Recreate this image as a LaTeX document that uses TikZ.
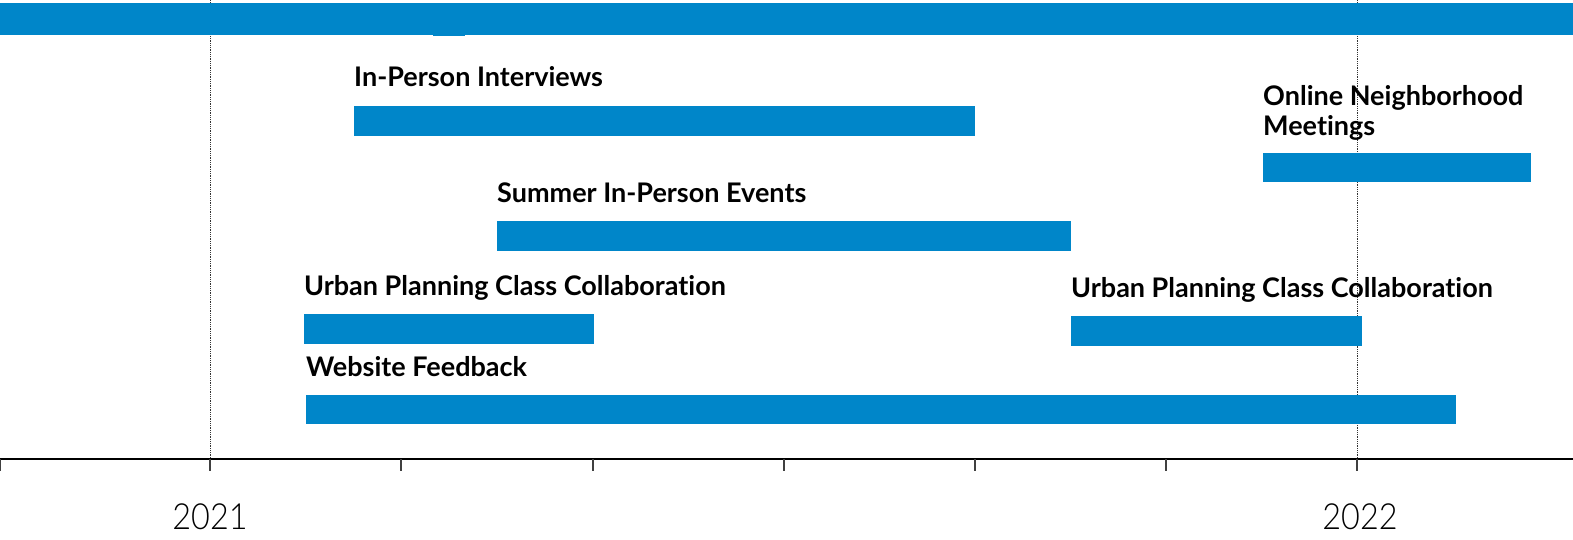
\documentclass[tikz,border=0pt]{standalone}
\usepackage{fontspec}
\setmainfont{Lato}[Ligatures=NoCommon]
\newfontfamily\yearfont{Lato Light}[FakeStretch=0.9]
\definecolor{barblue}{RGB}{0,134,201}

\begin{document}
\begin{tikzpicture}[x=1pt, y=-1pt,
    bar/.style={fill=barblue, draw=none},
    lbl/.style={anchor=base west, inner sep=0pt,
      font=\fontsize{27}{30}\selectfont\bfseries},
    yr/.style={anchor=base, inner sep=0pt,
      font=\fontsize{36}{40}\selectfont\yearfont},
    gridline/.style={densely dotted, line width=0.8pt, black!80}]
  \useasboundingbox (0,0) rectangle (1573,540);

  \draw[gridline] (210,0) -- (210,459);
  \draw[gridline] (1357,0) -- (1357,459);

  \node[lbl] (interviews) at (354,87) {In-Person Interviews};
  \node[lbl] (online) at (1263,106) {Online Neighborhood};
  \node[lbl] (meetings) at (1263,136) {Meetings};
  \node[lbl] (summer) at (497,202) {Summer In-Person Events};
  \node[lbl] (urbanA) at (304,295) {Urban Planning Class Collaboration};
  \node[lbl] (urbanB) at (1071,297) {Urban Planning Class Collaboration};
  \node[lbl] (website) at (306,376) {Website Feedback};

  \fill[bar] (0,3) rectangle (1573,35);
  \fill[bar] (433,35) rectangle (465,36);
  \fill[bar] (354,106) rectangle (975,136);
  \fill[bar] (1263,153) rectangle (1531,182);
  \fill[bar] (497,221) rectangle (1071,251);
  \fill[bar] (304,314) rectangle (594,344);
  \fill[bar] (1071,316) rectangle (1362,346);
  \fill[bar] (306,395) rectangle (1456,424);

  \draw[line width=2.5pt] (0,459) -- (1573,459);
  \foreach \x in {0.6,210,401,593,784,975,1166,1357}
    \draw[line width=1.2pt, black!75] (\x,459) -- (\x,471);

  \node[yr] (yearA) at (210,529) {2021};
  \node[yr] (yearB) at (1360,529) {2022};
\end{tikzpicture}
\end{document}
